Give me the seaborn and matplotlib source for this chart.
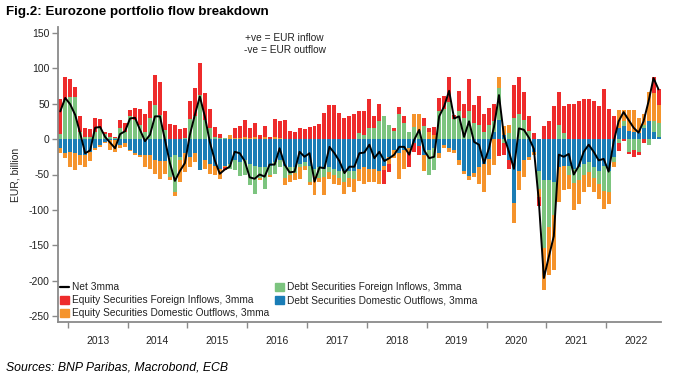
import numpy as np
import pandas as pd
import matplotlib
matplotlib.use("Agg")
import matplotlib.pyplot as plt
import seaborn as sns
from matplotlib.patches import Patch
from matplotlib.lines import Line2D

# Monthly observations, Nov 2012 .. Nov 2022 (EUR bn, 3mma)
months = pd.date_range("2012-11-01", "2022-11-01", freq="MS")
years = [str(y) for y in range(2013, 2023)]

debt_domestic = [
    -13, -20, -18, -20, -22, -22, -18, -12, -8, -4, -2, -1, -8, -6, -15, -20, -22, -23, -23, -30, -31, -31, -26, -23,
    -25, -20, -25, -20, -44, -30, -35, -38, -42, -38, -35, -30, -32, -30, -35, -38, -40, -40, -38, -32, -30, -38, -40, -40,
    -35, -32, -38, -42, -40, -42, -40, -42, -45, -45, -45, -45, -42, -40, -42, -42, -45, -38, -25, -15, -20, -15, -12, -6,
    -10, -22, -15, -12, -20, -8, -13, -15, -30, -45, -52, -48, -40, -35, -28, 10, 27, 5, -30, -90, -45, -30, -25, -18,
    -45, -58, -58, -60, -40, -38, -38, -42, -40, -35, -32, -40, -45, -38, -45, -25, 15, 18, 12, 10, 8, 15, 25, 10, 3]
debt_foreign = [
    7, 55, 59, 59, 10, 3, 3, 10, 16, 7, 3, 2, 16, 10, 32, 27, 20, 10, 29, 48, 34, 13, -28, -52,
    -5, 2, 28, 32, 62, 27, 15, 3, 2, 1, -7, -14, -20, -21, -30, -40, -15, -30, -12, -18, -10, -17, -10, -8,
    -5, -6, -22, -10, -15, -12, -6, -8, -10, -15, -10, -12, 8, 5, 15, 15, 25, 33, 20, 12, 35, 22, 10, 17,
    12, 18, -36, -32, 40, 42, 52, 28, 40, 30, 40, 22, 20, 10, 20, 15, 45, -5, 8, 30, 35, 27, 12, 0,
    -25, -96, -66, -47, 20, 8, -12, -20, -18, -15, -15, -15, -18, -35, -30, -8, -5, 8, -18, -15, -18, 5, -8, 15, 20]
equity_domestic = [
    -7, -7, -22, -24, -15, -17, -13, -4, -3, -2, -14, -17, -5, -5, -2, -3, -3, -16, -19, -19, -25, -18, -4, -5,
    -30, -26, -14, -12, 0, -12, -14, -13, -14, -2, 5, 2, 2, 3, 2, 3, -3, 3, -3, 3, 2, -10, -10, -10,
    -16, -6, -5, -27, -5, -25, -10, -13, -10, -18, -12, -18, -17, -23, -18, -18, -18, -5, -10, -12, -36, -27, -6, 18,
    23, -23, 10, 5, -7, -5, -5, -5, -7, -4, -6, -5, -23, -40, -23, -37, 16, 14, 12, -29, -27, -24, -5, -5,
    -12, -59, -68, -77, -49, -34, -20, -38, -33, -25, -20, -20, -21, -25, -16, -7, 26, 15, 29, 31, 22, 15, 41, 40, 25]
equity_foreign = [
    50, 32, 26, 15, 22, 13, 11, 20, 12, 3, 5, 1, 11, 12, 9, 17, 23, 26, 24, 42, 46, 26, 21, 20,
    14, 13, 25, 40, 45, 38, 28, 14, 5, -4, 0, 14, 17, 24, 13, 19, 6, 16, 3, 25, 23, 27, 11, 10,
    15, 14, 17, 18, 21, 37, 48, 48, 37, 29, 33, 35, 32, 35, 42, 18, 24, -20, -12, 4, 10, 10, -21, -12,
    -12, 12, 6, 12, 18, 18, 35, 6, 28, 20, 44, 26, 40, 26, 24, 25, -24, -18, -12, 46, 52, 40, 20, 9,
    -13, 18, 26, 47, 47, 39, 50, 50, 53, 57, 57, 54, 46, 70, 42, 32, -12, -3, -3, -10, -4, -5, 0, 22, 22]
net_3mma = [
    39, 58, 49, 34, 8, -20, -16, 16, 17, 3, -5, -13, 7, 11, 29, 30, 13, -3, 6, 32, 32, -1, -34, -59,
    -45, -34, 6, 34, 60, 32, -4, -30, -49, -43, -39, -18, -20, -31, -54, -56, -50, -53, -36, -36, -13, -36, -47, -46,
    -18, -25, -20, -60, -40, -41, -11, -20, -31, -48, -39, -39, -20, -19, -8, -27, -18, -31, -27, -22, -11, -11, -22, -1,
    13, -16, -27, -25, 32, 46, 68, 29, 32, 3, 25, -4, -8, -34, -13, 17, 62, 4, -18, -42, 15, 13, 2, -14,
    -88, -196, -166, -137, -22, -25, -21, -50, -38, -18, -8, -18, -30, -28, -46, -4, 25, 38, 27, 16, 9, 25, 53, 86, 70]

labels = {
    "net": "Net 3mma",
    "eqf": "Equity Securities Foreign Inflows, 3mma",
    "eqd": "Equity Securities Domestic Outflows, 3mma",
    "dbf": "Debt Securities Foreign Inflows, 3mma",
    "dbd": "Debt Securities Domestic Outflows, 3mma",
}

RED = "#EE2B2B"
ORANGE = "#F5932B"
GREEN = "#7CC47F"
BLUE = "#1A7DB6"
GREY = "#8a8a8a"

sns.set_theme(style="white")
plt.rcParams['font.family'] = ['Liberation Sans', 'DejaVu Sans']

fig = plt.figure(figsize=(6.78, 3.80), dpi=100)
W, H = 678, 380
ax = fig.add_axes([58 / W, 1 - 322 / H, (661 - 58) / W, (322 - 27) / H])

n = len(months)
x = np.arange(n)
pos = np.zeros(n)
neg = np.zeros(n)
for vals, col in [(debt_domestic, BLUE), (debt_foreign, GREEN),
                  (equity_domestic, ORANGE), (equity_foreign, RED)]:
    v = np.asarray(vals, dtype=float)
    b = np.where(v >= 0, pos, neg)
    ax.bar(x, v, bottom=b, width=0.8, color=col, linewidth=0, zorder=2)
    pos += np.clip(v, 0, None)
    neg += np.clip(v, None, 0)

df = pd.DataFrame({"x": x, "net": net_3mma})
sns.lineplot(data=df, x="x", y="net", color="black", linewidth=1.4, ax=ax, zorder=3)

ax.set_xlim(-0.45, 120.5)
ax.set_ylim(-258, 158)
ax.set_yticks(np.arange(-250, 151, 50))
ax.set_yticklabels([str(v) for v in range(-250, 151, 50)])
year_starts = 1.5 + 12 * np.arange(len(years))
ax.set_xticks(year_starts)
ax.set_xticklabels([])
ax.set_xticks(year_starts + 6, minor=True)
ax.set_xticklabels(years, minor=True)
ax.set_xlabel("")
ax.set_ylabel("EUR, billion", fontsize=7.5, color="#222222", labelpad=6)

for side in ["top", "right"]:
    ax.spines[side].set_visible(False)
for side in ["left", "bottom"]:
    ax.spines[side].set_color(GREY)
    ax.spines[side].set_linewidth(1.3)
ax.tick_params(axis="both", which="major", direction="out", length=4, width=1.0,
               color=GREY, labelsize=7.5, labelcolor="#222222", pad=2,
               left=True, bottom=True)
ax.tick_params(axis="x", which="minor", length=0, labelsize=7.5, labelcolor="#222222", pad=10)

handles = [Line2D([0], [0], color="black", lw=1.6),
           Patch(color=RED), Patch(color=ORANGE),
           Patch(color=GREEN), Patch(color=BLUE)]
leg = ax.legend(handles, [labels["net"], labels["eqf"], labels["eqd"], labels["dbf"], labels["dbd"]],
                ncol=2, loc="lower left", bbox_to_anchor=(0.004, 0.012), frameon=False,
                fontsize=7.3, handlelength=0.8, handleheight=0.8, handletextpad=0.35,
                columnspacing=0.6, labelspacing=0.3, borderaxespad=0, borderpad=0)
for t in leg.get_texts():
    t.set_color("#222222")

fig.text(245 / W, 1 - 38 / H, "+ve = EUR inflow", fontsize=7.3, va="center", ha="left", color="#222222")
fig.text(244 / W, 1 - 50 / H, "-ve = EUR outflow", fontsize=7.3, va="center", ha="left", color="#222222")

fig.text(6 / W, 1 - 12 / H, "Fig.2: Eurozone portfolio flow breakdown", fontsize=9.6,
         fontweight="bold", va="center", ha="left", color="black")
fig.text(6 / W, 1 - 367 / H, "Sources: BNP Paribas, Macrobond, ECB", fontsize=8.8,
         style="italic", va="center", ha="left", color="black")

fig.savefig("out.png", dpi=100)
